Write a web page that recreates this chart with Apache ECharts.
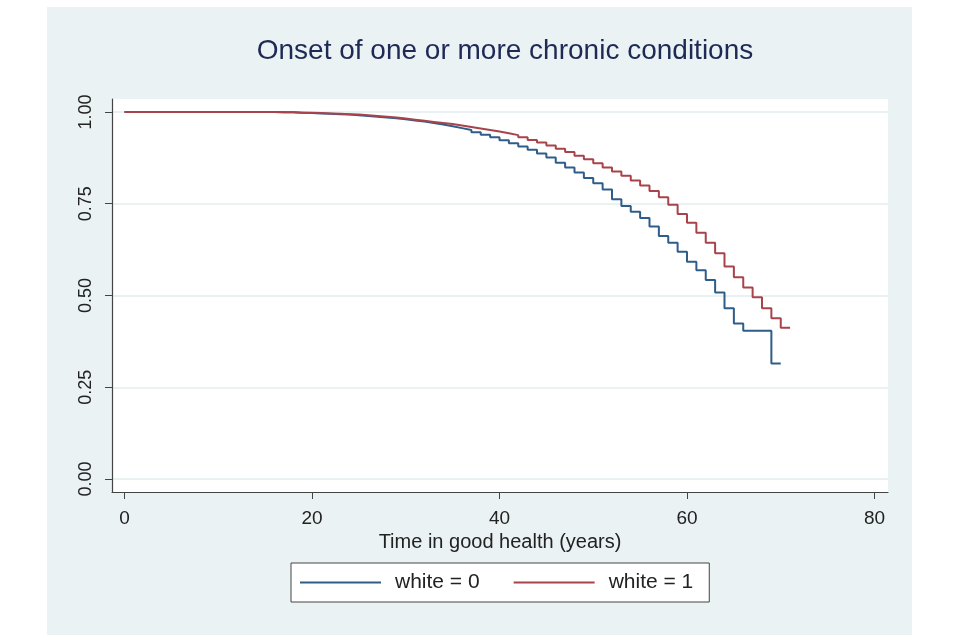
<!DOCTYPE html>
<html>
<head>
<meta charset="utf-8">
<script src="https://cdn.jsdelivr.net/npm/echarts@6/dist/echarts.min.js"></script>
<style>
html,body{margin:0;padding:0;background:#ffffff;width:960px;height:640px;overflow:hidden;}
#wrap{position:absolute;left:47px;top:7px;width:865px;height:628px;background:#EAF2F3;}
#chart{width:865px;height:628px;}
</style>
</head>
<body>
<div id="wrap"><div id="chart"></div></div>
<script>
const titleText = 'Onset of one or more chronic conditions';
const xAxisName = 'Time in good health (years)';
const seriesNames = ['white = 0', 'white = 1'];
const xTicks = [0, 20, 40, 60, 80];
const yTicks = [0, 0.25, 0.5, 0.75, 1];

// survival estimate holding from each year to the next
const yearsWhite0 = [0,1,2,3,4,5,6,7,8,9,10,11,12,13,14,15,16,17,18,19,20,21,22,23,24,25,26,27,28,29,30,31,32,33,34,35,36,37,38,39,40,41,42,43,44,45,46,47,48,49,50,51,52,53,54,55,56,57,58,59,60,61,62,63,64,65,66,67,68,69,70];
const survWhite0 = [1,1,1,1,1,1,1,1,1,1,1,1,1,1,1,1,
  0.999,0.999,0.998,0.997,0.996,0.995,0.994,0.993,0.991,0.989,0.987,0.985,0.983,0.980,0.977,0.974,0.970,0.966,0.961,0.956,0.951,0.945,0.938,0.931,0.923,0.915,0.906,0.897,0.887,0.876,0.862,0.849,0.835,0.820,0.806,0.789,0.762,0.744,0.728,0.711,0.688,0.662,0.644,0.619,0.592,0.569,0.542,0.508,0.465,0.424,0.404,0.404,0.404,0.315,0.315];

const yearsWhite1 = [0,1,2,3,4,5,6,7,8,9,10,11,12,13,14,15,16,17,18,19,20,21,22,23,24,25,26,27,28,29,30,31,32,33,34,35,36,37,38,39,40,41,42,43,44,45,46,47,48,49,50,51,52,53,54,55,56,57,58,59,60,61,62,63,64,65,66,67,68,69,70,71];
const survWhite1 = [1,1,1,1,1,1,1,1,1,1,1,1,1,1,1,1,
  0.999,0.999,0.998,0.998,0.997,0.996,0.995,0.994,0.993,0.991,0.989,0.987,0.985,0.982,0.979,0.976,0.973,0.970,0.967,0.963,0.959,0.955,0.951,0.947,0.942,0.937,0.931,0.924,0.917,0.909,0.900,0.891,0.881,0.871,0.860,0.849,0.838,0.826,0.813,0.800,0.785,0.768,0.747,0.722,0.698,0.671,0.644,0.615,0.579,0.550,0.522,0.495,0.465,0.438,0.412,0.412];

const colors = ['#2F5D8A', '#A8434B'];
const font = '"Liberation Sans", Arial, sans-serif';

function pairs(xs, ys) { return xs.map((x, i) => [x, ys[i]]); }

const chart = echarts.init(document.getElementById('chart'), null, {renderer: 'canvas'});
chart.setOption({
  animation: false,
  backgroundColor: 'transparent',
  title: {
    text: titleText,
    left: 453,
    textAlign: 'center',
    top: 25,
    textStyle: {fontFamily: font, fontSize: 28, fontWeight: 'normal', color: '#1E2A55'}
  },
  grid: {left: 65, right: 24, top: 92, bottom: 143, backgroundColor: '#ffffff', show: true, borderWidth: 0},
  xAxis: {
    type: 'value',
    min: -1.333, max: 81.44,
    name: xAxisName,
    nameLocation: 'middle',
    nameGap: 39,
    nameTextStyle: {fontFamily: font, fontSize: 20, color: '#222'},
    axisLine: {show: true, onZero: false, lineStyle: {color: '#444', width: 1.2}},
    axisTick: {show: true, length: 7, customValues: xTicks, lineStyle: {color: '#444'}},
    axisLabel: {customValues: xTicks, margin: 17, fontFamily: font, fontSize: 19, color: '#222'},
    splitLine: {show: false}
  },
  yAxis: {
    type: 'value',
    min: -0.0354, max: 1.0354,
    axisLine: {show: true, onZero: false, lineStyle: {color: '#444', width: 1.2}},
    axisTick: {show: true, length: 7, customValues: yTicks, lineStyle: {color: '#444'}},
    axisLabel: {customValues: yTicks, rotate: 90, margin: 17, fontFamily: font, fontSize: 18, color: '#222',
      formatter: v => v.toFixed(2)},
    splitLine: {show: true, customValues: yTicks, lineStyle: {color: '#E3EDEF', width: 1.5}}
  },
  legend: {
    data: seriesNames,
    left: 244,
    top: 556,
    orient: 'horizontal',
    icon: 'rect',
    itemWidth: 81,
    itemHeight: 2,
    itemGap: 34,
    padding: [9, 16, 9, 9],
    backgroundColor: '#ffffff',
    borderColor: '#444',
    borderWidth: 1,
    borderRadius: 0,
    textStyle: {fontFamily: font, fontSize: 21, color: '#222', padding: [0, 0, 0, 9]}
  },
  series: [
    {
      name: seriesNames[0], type: 'line', step: 'end', showSymbol: false, symbol: 'none',
      color: colors[0], lineStyle: {width: 2, color: colors[0]},
      data: pairs(yearsWhite0, survWhite0)
    },
    {
      name: seriesNames[1], type: 'line', step: 'end', showSymbol: false, symbol: 'none',
      color: colors[1], lineStyle: {width: 2, color: colors[1]},
      data: pairs(yearsWhite1, survWhite1)
    }
  ]
});
</script>
</body>
</html>
